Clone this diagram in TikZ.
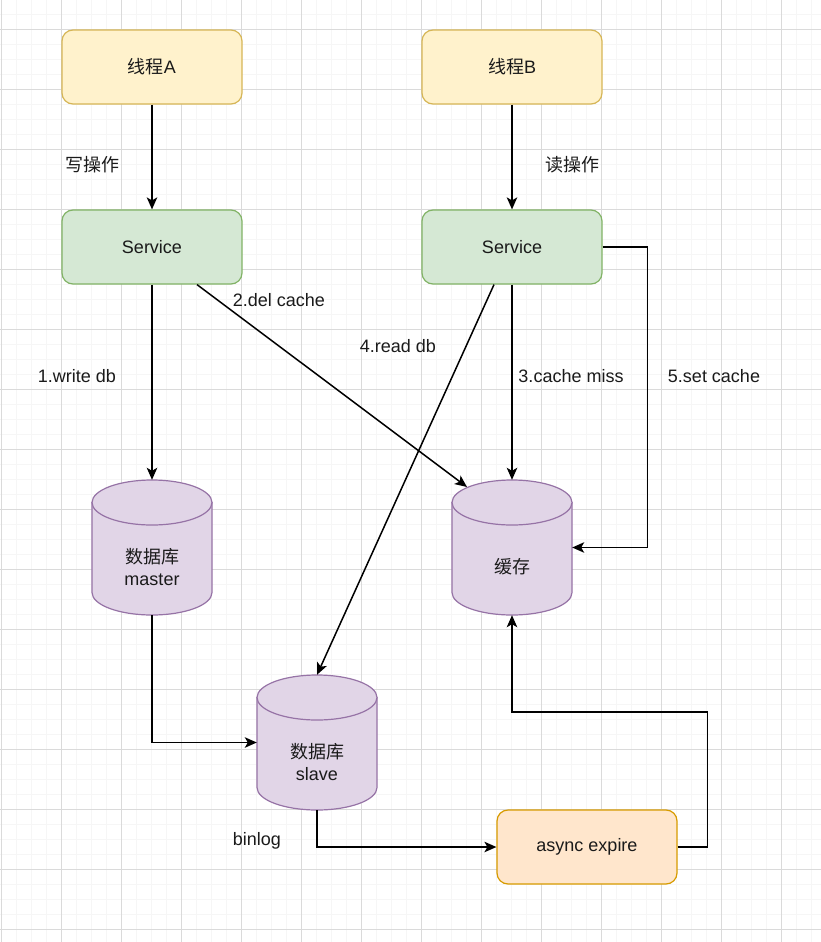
\documentclass[tikz,border=0pt]{standalone}
\usepackage{fontspec}
\setmainfont{Liberation Sans}
\newfontfamily\cjk{Noto Sans CJK SC}
\usetikzlibrary{arrows.meta}
\definecolor{yfill}{HTML}{FFF2CC}\definecolor{ydraw}{HTML}{D6B656}
\definecolor{gfill}{HTML}{D5E8D4}\definecolor{gdraw}{HTML}{82B366}
\definecolor{pfill}{HTML}{E1D5E7}\definecolor{pdraw}{HTML}{9673A6}
\definecolor{ofill}{HTML}{FFE6CC}\definecolor{odraw}{HTML}{D79B00}
\definecolor{gridmajor}{HTML}{DADADA}\definecolor{gridminor}{HTML}{F6F6F6}
\definecolor{txt}{HTML}{1A1A1A}
\newcommand\mycyl[3]{%
  \filldraw[cylst] ({#1-60},{#2+22.5}) -- ({#1-60},{#3-22.5})
     arc[start angle=180,end angle=0,x radius=60,y radius=22.5] -- ({#1+60},{#2+22.5}) -- cycle;
  \filldraw[cylst] (#1,{#2+22.5}) ellipse[x radius=60,y radius=22.5];
}
\begin{document}
\begin{tikzpicture}[x=1pt,y=-1pt,
  box/.style={rectangle, rounded corners=11pt, minimum width=180pt, minimum height=74pt,
    line width=1.2pt, inner sep=0pt, text=txt, font=\fontsize{18}{22}\selectfont},
  cylbox/.style={rectangle, minimum width=120pt, minimum height=135pt, inner sep=0pt,
    text=txt, align=center, font=\fontsize{18}{23}\selectfont},
  cylst/.style={fill=pfill, draw=pdraw, line width=1.2pt},
  lbl/.style={inner sep=0pt, text=txt, font=\fontsize{18}{22}\selectfont},
  conn/.style={line width=1.5pt, draw=black, -{Stealth[length=12pt,width=10.5pt,inset=3pt]}}
]
\useasboundingbox (0,0) rectangle (821,942);
\fill[white] (0,0) rectangle (821,942);
% grid
\foreach \i in {0,...,54} {
  \draw[gridminor, line width=0.7pt] ({1.7+15*\i},0) -- ({1.7+15*\i},942);
}
\foreach \i in {-1,...,61} {
  \draw[gridminor, line width=0.7pt] (0,{29.3+15*\i}) -- (821,{29.3+15*\i});
}
\foreach \i in {0,...,13} {
  \draw[gridmajor, line width=0.8pt] ({1.7+60*\i},0) -- ({1.7+60*\i},942);
}
\foreach \i in {0,...,15} {
  \draw[gridmajor, line width=0.8pt] (0,{29.3+60*\i}) -- (821,{29.3+60*\i});
}
% cylinders
\mycyl{152}{480}{615}
\mycyl{512}{480}{615}
\mycyl{317}{675}{810}
% nodes
\node[box, fill=yfill, draw=ydraw] (tA) at (152,67) {{\cjk 线程}A};
\node[box, fill=yfill, draw=ydraw] (tB) at (512,67) {{\cjk 线程}B};
\node[box, fill=gfill, draw=gdraw] (sA) at (152,247) {Service};
\node[box, fill=gfill, draw=gdraw] (sB) at (512,247) {Service};
\node[box, fill=ofill, draw=odraw] (ae) at (587,847) {async expire};
\node[cylbox] (master) at (152,547.5) {};
\node[cylbox] (cache) at (512,547.5) {};
\node[cylbox] (slave) at (317,742.5) {};
\node[lbl, align=center] (masterT) at (152,567) {{\cjk 数据库}\\master};
\node[lbl] (cacheT) at (512,567) {\cjk 缓存};
\node[lbl, align=center] (slaveT) at (317,762) {{\cjk 数据库}\\slave};
\coordinate (delend) at (467,487);
% connectors
\draw[conn] (tA) -- (sA);
\draw[conn] (tB) -- (sB);
\draw[conn] (sA) -- (master);
\draw[conn] ([xshift=45pt]sA.south) -- (delend);
\draw[conn] ([xshift=-18pt]sB.south) -- (slave.north);
\draw[conn] (sB) -- (cache);
\draw[conn] (sB.east) -- ++(45,0) |- (cache.east);
\draw[conn] (master.south) |- (slave.west);
\draw[conn] (slave.south) |- (ae.west);
\draw[conn] (ae.east) -- ++(30,0) -- ++(0,-135) -| (cache.south);
% labels
\node[lbl] (l1) at (92,165) {\cjk 写操作};
\node[lbl] (l2) at (572,165) {\cjk 读操作};
\node[lbl] (l3) at (77,376) {1.write db};
\node[lbl] (l4) at (279,300) {2.del cache};
\node[lbl] (l5) at (398,346) {4.read db};
\node[lbl] (l6) at (571,376) {3.cache miss};
\node[lbl] (l7) at (714,376) {5.set cache};
\node[lbl] (l8) at (257,841) {binlog};
\end{tikzpicture}
\end{document}
